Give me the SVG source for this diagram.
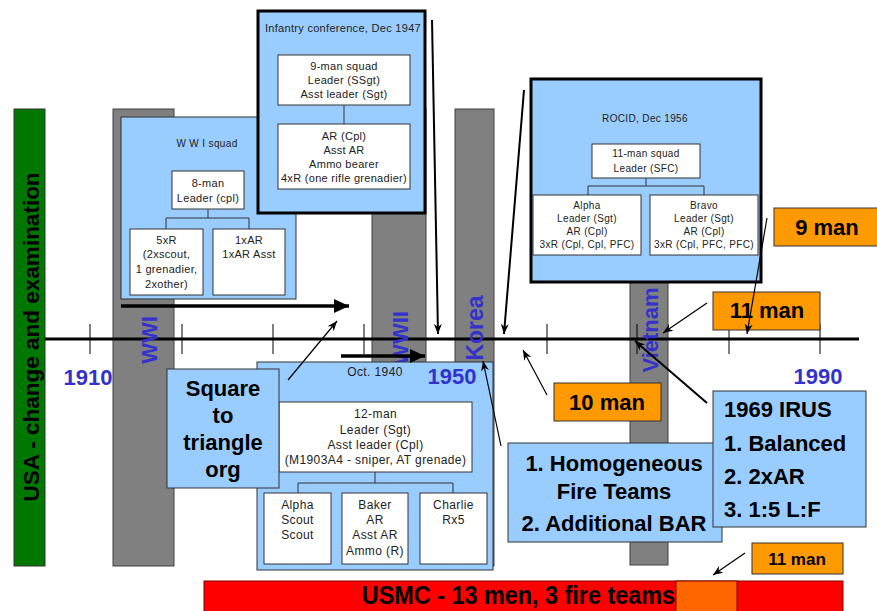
<svg xmlns="http://www.w3.org/2000/svg" width="877" height="611" viewBox="0 0 877 611">
<style>
text{font-family:"Liberation Sans",Arial,sans-serif}
.bar{fill:#808080;stroke:#404040;stroke-width:1}
.panel{fill:#99CCFF;stroke:#333;stroke-width:1}
.thick{fill:#99CCFF;stroke:#000;stroke-width:3}
.box{fill:#fff;stroke:#333;stroke-width:1}
.org{fill:#FF9900;stroke:#333;stroke-width:1}
.s{font-size:11px;fill:#222;text-anchor:middle;letter-spacing:0.3px}
.s10{font-size:10px;fill:#222;text-anchor:middle;letter-spacing:0.35px}
.s12{font-size:12px;fill:#222;text-anchor:middle;letter-spacing:0.4px}
.b{font-size:22px;font-weight:bold;fill:#000}
.yr{font-size:22px;font-weight:bold;fill:#3333CC}
.tree{fill:none;stroke:#333;stroke-width:1}
.tick{stroke:#000;stroke-width:1}
.thin{stroke:#000;stroke-width:1.2;fill:none}
.med{stroke:#000;stroke-width:2;fill:none}
.fat{stroke:#000;stroke-width:3.5;fill:none}
</style>
<defs>
<marker id="ah" markerUnits="userSpaceOnUse" markerWidth="12" markerHeight="10" refX="10" refY="4" orient="auto"><path d="M0,0 L10,4 L0,8 L3,4 Z" fill="#000"/></marker>
<marker id="ahb" markerUnits="userSpaceOnUse" markerWidth="18" markerHeight="16" refX="15" refY="7" orient="auto"><path d="M0,0 L15,7 L0,14 Z" fill="#000"/></marker>
</defs>

<g id="usa-bar">
<rect x="14" y="109" width="31" height="457" fill="#007700" stroke="#333" stroke-width="1"/>
<text class="b" transform="translate(39,337) rotate(-90)" text-anchor="middle" style="font-size:22.5px">USA - change and examination</text>
</g>

<g id="war-bars">
<rect class="bar" x="113" y="109" width="61" height="457"/>
<rect class="bar" x="372" y="109" width="54" height="457"/>
<rect class="bar" x="455" y="109" width="39" height="457"/>
<rect class="bar" x="630" y="109" width="38" height="456"/>
</g>

<g id="timeline">
<line x1="45" y1="339" x2="859" y2="339" stroke="#000" stroke-width="3"/>
<line class="tick" x1="90" y1="324" x2="90" y2="354"/>
<line class="tick" x1="182" y1="324" x2="182" y2="354"/>
<line class="tick" x1="273" y1="324" x2="273" y2="354"/>
<line class="tick" x1="364" y1="324" x2="364" y2="354"/>
<line class="tick" x1="547" y1="324" x2="547" y2="354"/>
<line class="tick" x1="637" y1="324" x2="637" y2="354"/>
<line class="tick" x1="729" y1="324" x2="729" y2="354"/>
<line class="tick" x1="820" y1="324" x2="820" y2="354"/>
<text class="yr" x="88" y="385" text-anchor="middle">1910</text>
<text class="yr" x="818" y="384" text-anchor="middle">1990</text>
</g>

<g id="war-labels">
<text class="yr" transform="translate(157,340) rotate(-90)" text-anchor="middle">WWI</text>
<text class="yr" transform="translate(408,338) rotate(-90)" text-anchor="middle">WWII</text>
<text class="yr" transform="translate(483,328) rotate(-90)" text-anchor="middle" style="font-size:23px">Korea</text>
<text class="yr" transform="translate(658,330) rotate(-90)" text-anchor="middle">Vietnam</text>
</g>

<g id="wwi-squad">
<rect class="panel" x="121" y="117" width="175" height="182"/>
<text class="s10" x="207" y="147">W W I squad</text>
<rect class="box" x="172" y="171" width="72" height="38"/>
<text class="s" x="208" y="187">8-man</text>
<text class="s" x="208" y="202">Leader (cpl)</text>
<rect class="box" x="130" y="229" width="73" height="66"/>
<text class="s" x="166.5" y="244">5xR</text>
<text class="s" x="166.5" y="258">(2xscout,</text>
<text class="s" x="166.5" y="273">1 grenadier,</text>
<text class="s" x="166.5" y="288">2xother)</text>
<rect class="box" x="213" y="229" width="72" height="66"/>
<text class="s" x="249" y="244">1xAR</text>
<text class="s" x="249" y="258">1xAR Asst</text>
</g>

<g id="infantry-1947">
<rect class="thick" x="258" y="11" width="167" height="202"/>
<text class="s" x="343" y="32">Infantry conference, Dec 1947</text>
<rect class="box" x="278" y="55" width="132" height="50"/>
<text class="s" x="344" y="70">9-man squad</text>
<text class="s" x="344" y="84">Leader (SSgt)</text>
<text class="s" x="344" y="98">Asst leader (Sgt)</text>
<rect class="box" x="278" y="124" width="132" height="65"/>
<text class="s" x="344" y="140">AR (Cpl)</text>
<text class="s" x="344" y="154">Asst AR</text>
<text class="s" x="344" y="168">Ammo bearer</text>
<text class="s" x="344" y="182">4xR (one rifle grenadier)</text>
</g>

<g id="rocid-1956">
<rect class="thick" x="531" y="79" width="230" height="203"/>
<text class="s10" x="645" y="122">ROCID, Dec 1956</text>
<rect class="box" x="592" y="144" width="108" height="34"/>
<text class="s10" x="646" y="157">11-man squad</text>
<text class="s10" x="646" y="172">Leader (SFC)</text>
<rect class="box" x="533" y="195" width="108" height="60"/>
<text class="s10" x="587" y="209">Alpha</text>
<text class="s10" x="587" y="222">Leader (Sgt)</text>
<text class="s10" x="587" y="235">AR (Cpl)</text>
<text class="s10" x="587" y="248">3xR (Cpl, Cpl, PFC)</text>
<rect class="box" x="650" y="195" width="108" height="60"/>
<text class="s10" x="704" y="209">Bravo</text>
<text class="s10" x="704" y="222">Leader (Sgt)</text>
<text class="s10" x="704" y="235">AR (Cpl)</text>
<text class="s10" x="704" y="248">3xR (Cpl, PFC, PFC)</text>
</g>

<g id="oct-1940">
<rect class="panel" x="257" y="362" width="236" height="208"/>
<text class="s12" x="375" y="376">Oct. 1940</text>
<text class="yr" x="452" y="384" text-anchor="middle">1950</text>
<rect class="box" x="279" y="402" width="193" height="70"/>
<text class="s12" x="375.5" y="418">12-man</text>
<text class="s12" x="375.5" y="434">Leader (Sgt)</text>
<text class="s12" x="375.5" y="449">Asst leader (Cpl)</text>
<text class="s12" x="375.5" y="464">(M1903A4 - sniper, AT grenade)</text>
<rect class="box" x="264" y="493" width="67" height="71"/>
<text class="s12" x="297.5" y="509">Alpha</text>
<text class="s12" x="297.5" y="524">Scout</text>
<text class="s12" x="297.5" y="539">Scout</text>
<rect class="box" x="342" y="493" width="66" height="71"/>
<text class="s12" x="375" y="509">Baker</text>
<text class="s12" x="375" y="524">AR</text>
<text class="s12" x="375" y="539">Asst AR</text>
<text class="s12" x="375" y="555">Ammo (R)</text>
<rect class="box" x="420" y="493" width="67" height="71"/>
<text class="s12" x="453.5" y="509">Charlie</text>
<text class="s12" x="453.5" y="524">Rx5</text>
</g>

<g id="square-triangle">
<rect class="panel" x="167" y="369" width="112" height="119"/>
<text class="b" x="223" y="396" text-anchor="middle">Square</text>
<text class="b" x="223" y="423" text-anchor="middle">to</text>
<text class="b" x="223" y="450" text-anchor="middle">triangle</text>
<text class="b" x="223" y="477" text-anchor="middle">org</text>
</g>

<g id="nine-man">
<rect class="org" x="774" y="208" width="106" height="38"/>
<text class="b" x="827" y="235" text-anchor="middle">9 man</text>
</g>

<g id="eleven-man">
<rect class="org" x="713" y="292" width="107" height="38"/>
<text class="b" x="767" y="318" text-anchor="middle">11 man</text>
</g>

<g id="ten-man">
<rect class="org" x="554" y="383" width="107" height="38"/>
<text class="b" x="607" y="410" text-anchor="middle">10 man</text>
</g>

<g id="homogeneous">
<rect class="panel" x="508" y="443" width="214" height="99"/>
<text class="b" x="614" y="471" text-anchor="middle">1. Homogeneous</text>
<text class="b" x="614" y="499" text-anchor="middle">Fire Teams</text>
<text class="b" x="614" y="531" text-anchor="middle">2. Additional BAR</text>
</g>

<g id="irus-1969">
<rect class="panel" x="713" y="391" width="153" height="136" stroke="#000" stroke-width="2.5"/>
<text class="b" x="724" y="417">1969 IRUS</text>
<text class="b" x="724" y="451">1. Balanced</text>
<text class="b" x="724" y="484">2. 2xAR</text>
<text class="b" x="724" y="517">3. 1:5 L:F</text>
</g>

<g id="usmc">
<rect x="204" y="581" width="639" height="35" fill="#FF0000" stroke="#800000" stroke-width="1"/>
<rect x="676" y="581" width="61" height="35" fill="#FF6600" stroke="#800000" stroke-width="1"/>
<text class="b" transform="translate(675,604) scale(0.9,1)" text-anchor="end" style="font-size:26px">USMC - 13 men, 3 fire teams</text>
</g>

<g id="eleven-man-usmc">
<rect class="org" x="752" y="543" width="91" height="31"/>
<text class="b" x="797" y="565" text-anchor="middle" style="font-size:17px">11 man</text>
</g>

<g id="connectors">
<path class="tree" d="M208,209 V218 M166,229 V218 H249 V229"/>
<path class="tree" d="M344,105 V124"/>
<path class="tree" d="M646,178 V186 M588,195 V186 H704 V195"/>
<path class="tree" d="M375,472 V483 M298,493 V483 H453 V493"/>
<line class="fat" x1="121" y1="306" x2="349" y2="306" marker-end="url(#ahb)"/>
<line class="fat" x1="341" y1="356" x2="425" y2="356" marker-end="url(#ahb)"/>
<line class="thin" x1="288" y1="380" x2="337" y2="321" marker-end="url(#ah)"/>
<line class="med" x1="432" y1="20" x2="438" y2="334" marker-end="url(#ah)"/>
<line class="med" x1="524" y1="90" x2="504" y2="334" marker-end="url(#ah)"/>
<line class="thin" x1="501" y1="446" x2="483" y2="361" marker-end="url(#ah)"/>
<line class="thin" x1="547" y1="395" x2="523" y2="350" marker-end="url(#ah)"/>
<line class="thin" x1="707" y1="303" x2="663" y2="333" marker-end="url(#ah)"/>
<line class="thin" x1="767" y1="218" x2="747" y2="334" marker-end="url(#ah)"/>
<line class="med" x1="707" y1="403" x2="635" y2="341" marker-end="url(#ah)"/>
<line class="thin" x1="745" y1="553" x2="713" y2="575" marker-end="url(#ah)"/>
</g>
</svg>
